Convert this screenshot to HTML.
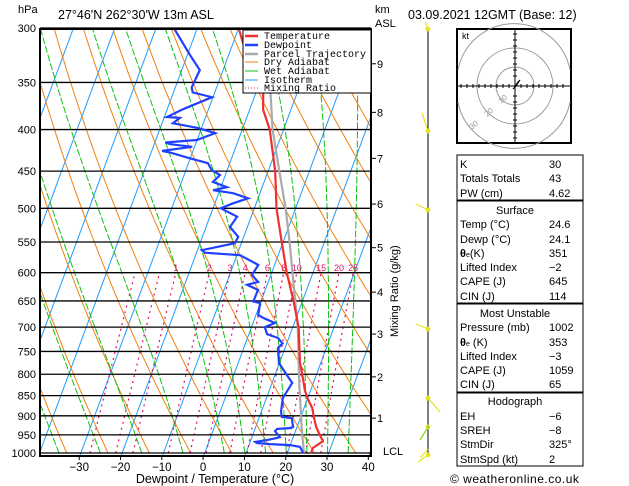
<!DOCTYPE html>
<html><head><meta charset="utf-8"><style>
body{margin:0;background:#fff}
svg{display:block;font-family:"Liberation Sans",sans-serif}
</style></head><body>
<svg id="c" width="629" height="486" viewBox="0 0 629 486" xmlns="http://www.w3.org/2000/svg">
<defs><clipPath id="pc"><rect x="40" y="29" width="331" height="427"/></clipPath></defs>
<g id="bg" clip-path="url(#pc)"></g>
<g id="fg"></g>
</svg>
<script>
const pLevels=[300,350,400,450,500,550,600,650,700,750,800,850,900,950,1000];
const tTicks=[-30,-20,-10,0,10,20,30,40];
const tempP=[1000,986,967,945,929,906,880,860,837,813,775,700,650,600,550,500,450,400,378,350,313,300];
const tempT=[26.0,26.0,27.8,26.1,24.9,23.6,22.2,20.5,18.8,17.5,15.2,11.6,8.0,3.8,-0.2,-4.5,-8.2,-13.3,-16.7,-19.1,-27.6,-30.0];
const dewP=[1000,983,978,975,972,969,964,958,956,940,934,932,929,906,903,890,856,820,802,775,743,733,722,714,700,692,682,676,654,651,630,621,616,604,587,571,567,563,552,542,527,512,500,493,486,479,475,471,464,455,449,440,434,427,425,420,417,415,412,404,398,393,387,386,378,365,360,355,338,324,300];
const dewT=[24.1,22.8,20.2,15.3,12.0,11.5,14.2,16.4,17.0,15.3,15.6,18.6,19.3,18.2,15.7,15.0,14.2,15.1,13.1,10.1,8.5,9.2,7.6,4.6,3.4,5.5,2.2,0.7,0.1,-1.7,-1.6,-4.7,-2.3,-4.4,-3.8,-9.1,-17.8,-18.8,-11.4,-11.2,-14.1,-13.3,-18.0,-15.5,-12.3,-16.4,-21.5,-18.4,-22.3,-21.2,-23.6,-25.2,-30.0,-35.3,-37.4,-30.5,-36.0,-37.4,-30.0,-26.2,-31.0,-37.3,-36.1,-39.3,-36.3,-30.2,-35.3,-36.0,-35.6,-39.3,-45.7];
const parcelP=[1000,937,813,700,600,550,500,450,400,350];
const parcelT=[24.3,21.7,16.5,11.4,5.2,1.7,-2.3,-7.2,-12.6,-17.5];
const mixRatios=[0.4,0.7,1,2,3,4,6,8,10,15,20,25];
const mixLabels=["","","1","2","3","4","6","8","10","15","20","25"];
const thetaW=[-35,-25,-15,-5,5,10,15,20,25,30,35];
const kmValues=[1,2,3,4,5,6,7,8,9];
const kmPress=[906,806,714,634,559,494,434,381,332];

const NS="http://www.w3.org/2000/svg";
const svg=document.getElementById('c'),bg=document.getElementById('bg'),fg=document.getElementById('fg');
function yP(p){return 453-353*Math.log(1000/p);}
function xT(t,p){return 202.5+4.13*t+0.374*(456-yP(p));}
function mk(tag,attrs,parent){const e=document.createElementNS(NS,tag);for(const k in attrs)e.setAttribute(k,attrs[k]);(parent||fg).appendChild(e);return e;}
function pathD(ps,ts){return ps.map((p,i)=>(i?'L':'M')+xT(ts[i],p).toFixed(1)+','+yP(p).toFixed(1)).join('');}

// isotherms
for(let t=-120;t<=40;t+=10){const e=mk('line',{x1:xT(t,1000),y1:yP(1000)+3,x2:xT(t,300),y2:yP(300),stroke:'#1e9bff','stroke-width':1},bg);
}
// dry adiabats
for(let th=190;th<=470;th+=10){const ps=[],ts=[];for(let p=1000;p>=300;p-=10){ps.push(p);ts.push(th*Math.pow(p/1000,0.286)-273.15);}
const e=mk('path',{d:pathD(ps,ts),fill:'none',stroke:'#f08010','stroke-width':1},bg);
}
// wet adiabats
function es(t){return 6.112*Math.exp(17.67*t/(t+243.5));}
thetaW.forEach(tw=>{let T=tw+273.15;const ps=[1000],ts=[tw];for(let p=1000;p>300;p-=2){const tc=T-273.15,e=es(tc),rs=0.622*e/(p-e);
const dTdp=(287*T+2.5e6*rs)/(p*(1005+2.5e6*2.5e6*rs*0.622/(287*T*T)));T-=dTdp*2;ps.push(p-2);ts.push(T-273.15);}
const e=mk('path',{d:pathD(ps,ts),fill:'none',stroke:'#10c010','stroke-width':1,'stroke-dasharray':'7,2'},bg);
});
// mixing ratio
mixRatios.forEach((w,i)=>{const ps=[],ts=[];for(let p=1000;p>=600;p-=10){const e=w*p/(622+w),l=Math.log(e/6.112);ps.push(p);ts.push(243.5*l/(17.67-l));}
const e=mk('path',{d:pathD(ps,ts),fill:'none',stroke:'#e0106a','stroke-width':1.2,'stroke-dasharray':'2,4'},bg);

if(mixLabels[i]){const t=mk('text',{x:xT(ts[ts.length-1],600),y:271,'font-size':9,fill:'#e0106a','text-anchor':'middle'});t.textContent=mixLabels[i];
}});
// pressure lines
pLevels.forEach(p=>{const e=mk('line',{x1:40,x2:371,y1:yP(p),y2:yP(p),stroke:'#000','stroke-width':1.3});

const t=mk('text',{x:36,y:yP(p)+4,'font-size':11,'text-anchor':'end'});t.textContent=p;
});
// series
const gfg=mk('g',{'clip-path':'url(#pc)'});
[[parcelP,parcelT,'#aaa','parcel-trajectory'],[tempP,tempT,'#f03030','temperature-line'],[dewP,dewT,'#2040ff','dewpoint-line']].forEach(s=>{
const e=mk('path',{d:pathD(s[0],s[1]),fill:'none',stroke:s[2],'stroke-width':2.2},gfg);
});
// box
const bx=mk('rect',{x:40,y:29,width:331,height:427,fill:'none',stroke:'#000','stroke-width':2});

// x ticks
tTicks.forEach(t=>{const x=xT(t,1000)-0.5;const l=mk('line',{x1:x,x2:x,y1:456,y2:460,stroke:'#000'});

const e=mk('text',{x:x,y:471,'font-size':11.5,'text-anchor':'middle'});e.textContent=(t<0?'\u2212'+(-t):t);
});
// km axis
kmValues.forEach((k,i)=>{const y=yP(kmPress[i]);const l=mk('line',{x1:371,x2:376,y1:y,y2:y,stroke:'#000'});

const e=mk('text',{x:377,y:y+4,'font-size':11});e.textContent=k;
});
</script>
<svg width="629" height="486" style="position:absolute;left:0;top:0" font-family="Liberation Sans, sans-serif">
<text x="18" y="13" font-size="11">hPa</text>
<text x="58" y="19" font-size="12.5">27°46'N  262°30'W  13m  ASL</text>
<text x="375" y="13" font-size="11">km</text>
<text x="375" y="27" font-size="11">ASL</text>
<text x="408" y="19" font-size="12.5">03.09.2021 12GMT (Base: 12)</text>
<text x="383" y="455" font-size="11">LCL</text>
<text x="0" y="0" font-size="11" transform="translate(398,337) rotate(-90)">Mixing Ratio (g/kg)</text>
<text x="215" y="483" font-size="12.5" text-anchor="middle">Dewpoint / Temperature (°C)</text>
<g font-family="Liberation Mono, monospace" font-size="10">
<rect x="243" y="30" width="128" height="63" fill="#fff" stroke="#000"/>
<line x1="245" y1="36" x2="258" y2="36" stroke="#f03030" stroke-width="2.5"/><text x="264" y="39">Temperature</text>
<line x1="245" y1="45" x2="258" y2="45" stroke="#2040ff" stroke-width="2.5"/><text x="264" y="48">Dewpoint</text>
<line x1="245" y1="54" x2="258" y2="54" stroke="#aaa" stroke-width="2.5"/><text x="264" y="57">Parcel Trajectory</text>
<line x1="245" y1="62" x2="258" y2="62" stroke="#f08010"/><text x="264" y="65">Dry Adiabat</text>
<line x1="245" y1="71" x2="258" y2="71" stroke="#10c010"/><text x="264" y="74">Wet Adiabat</text>
<line x1="245" y1="80" x2="258" y2="80" stroke="#1e9bff"/><text x="264" y="83">Isotherm</text>
<line x1="245" y1="88" x2="258" y2="88" stroke="#e0106a" stroke-dasharray="1,2"/><text x="264" y="91">Mixing Ratio</text>
</g>
<g stroke="#e8e020" stroke-width="1.2">
<line x1="428" y1="29" x2="428" y2="456" stroke="#000" stroke-width="1"/>
<line x1="428" y1="29" x2="425" y2="22"/><line x1="428" y1="131" x2="422" y2="113"/>
<line x1="428" y1="210" x2="416" y2="204"/><line x1="428" y1="329" x2="416" y2="324"/>
<line x1="428" y1="398" x2="440" y2="412"/><line x1="428" y1="427" x2="420" y2="440" stroke="#90d020"/>
<line x1="428" y1="449" x2="420" y2="458"/><line x1="428" y1="455" x2="418" y2="462"/>
<circle cx="428" cy="29" r="1.8" fill="#e8e020"/><circle cx="428" cy="131" r="1.8" fill="#e8e020"/><circle cx="428" cy="210" r="1.8" fill="#e8e020"/><circle cx="428" cy="329" r="1.8" fill="#e8e020"/><circle cx="428" cy="398" r="1.8" fill="#e8e020"/><circle cx="428" cy="427" r="1.8" fill="#90d020"/><circle cx="428" cy="455" r="1.8" fill="#e8e020"/>
</g>
<g>
<rect x="457" y="29" width="114" height="114" fill="#fff" stroke="#000" stroke-width="2"/>
<circle cx="515" cy="86" r="19" fill="none" stroke="#999"/><circle cx="515" cy="86" r="38" fill="none" stroke="#999"/>
<path d="M458 70 A57 57 0 0 1 570 70 M458 102 A57 57 0 0 0 570 102" fill="none" stroke="#999"/>
<line x1="458" y1="86" x2="570" y2="86" stroke="#000"/><line x1="515" y1="30" x2="515" y2="142" stroke="#000"/>
<path d="M461 84v4M467 84v4M473 84v4M479 84v4M485 84v4M491 84v4M497 84v4M503 84v4M509 84v4M521 84v4M527 84v4M533 84v4M539 84v4M545 84v4M551 84v4M557 84v4M563 84v4M513 34h4M513 40h4M513 46h4M513 52h4M513 58h4M513 64h4M513 70h4M513 76h4M513 96h4M513 102h4M513 108h4M513 114h4M513 120h4M513 126h4M513 132h4M513 138h4" stroke="#000"/>
<path d="M514 88 L518 82 L520 80 L516 86 L513 89 Z" fill="#000" stroke="#000"/>
<text x="462" y="39" font-size="9">kt</text>
<text x="501" y="104" font-size="8" fill="#999" transform="rotate(-40 501 104)">10</text>
<text x="487" y="117" font-size="8" fill="#999" transform="rotate(-40 487 117)">20</text>
<text x="472" y="130" font-size="8" fill="#999" transform="rotate(-40 472 130)">30</text>
</g>
<g font-size="11">
<rect x="457" y="155" width="126" height="45" fill="none" stroke="#000"/>
<rect x="457" y="201" width="126" height="102" fill="none" stroke="#000"/>
<rect x="457" y="304" width="126" height="88" fill="none" stroke="#000"/>
<rect x="457" y="393" width="126" height="73" fill="none" stroke="#000"/>
<text x="460" y="168">K</text><text x="549" y="168">30</text>
<text x="460" y="182">Totals Totals</text><text x="549" y="182">43</text>
<text x="460" y="197">PW (cm)</text><text x="549" y="197">4.62</text>
<text x="515" y="214" text-anchor="middle">Surface</text>
<text x="460" y="228">Temp (°C)</text><text x="549" y="228">24.6</text>
<text x="460" y="243">Dewp (°C)</text><text x="549" y="243">24.1</text>
<text x="460" y="257"><tspan font-weight="bold">θ</tspan><tspan font-size="7">e</tspan>(K)</text><text x="549" y="257">351</text>
<text x="460" y="271">Lifted Index</text><text x="549" y="271">−2</text>
<text x="460" y="285">CAPE (J)</text><text x="549" y="285">645</text>
<text x="460" y="300">CIN (J)</text><text x="549" y="300">114</text>
<text x="515" y="317" text-anchor="middle">Most Unstable</text>
<text x="460" y="331">Pressure (mb)</text><text x="549" y="331">1002</text>
<text x="460" y="346"><tspan font-weight="bold">θ</tspan><tspan font-size="7">e</tspan> (K)</text><text x="549" y="346">353</text>
<text x="460" y="360">Lifted Index</text><text x="549" y="360">−3</text>
<text x="460" y="374">CAPE (J)</text><text x="549" y="374">1059</text>
<text x="460" y="388">CIN (J)</text><text x="549" y="388">65</text>
<text x="515" y="405" text-anchor="middle">Hodograph</text>
<text x="460" y="420">EH</text><text x="549" y="420">−6</text>
<text x="460" y="434">SREH</text><text x="549" y="434">−8</text>
<text x="460" y="448">StmDir</text><text x="549" y="448">325°</text>
<text x="460" y="463">StmSpd (kt)</text><text x="549" y="463">2</text>
</g>
<text x="450" y="483" font-size="12" letter-spacing="0.5">© weatheronline.co.uk</text>
</svg>
</body></html>
